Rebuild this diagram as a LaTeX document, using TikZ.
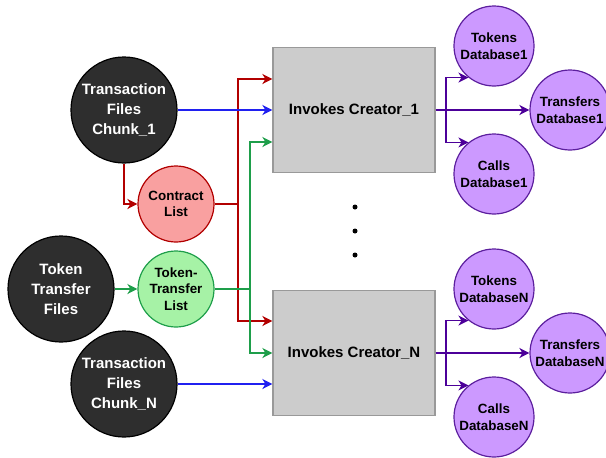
\documentclass[tikz,border=0pt]{standalone}
\usepackage{fontspec}
\setmainfont{Liberation Sans}
\usetikzlibrary{arrows.meta}

\definecolor{darkc}{HTML}{2E2E2E}
\definecolor{redl}{HTML}{B20000}
\definecolor{redf}{HTML}{F9A0A0}
\definecolor{greenl}{HTML}{1E9E4A}
\definecolor{greenf}{HTML}{A6F2A6}
\definecolor{bluel}{HTML}{2020F0}
\definecolor{purpl}{HTML}{4C0099}
\definecolor{dbfill}{HTML}{CC99FF}
\definecolor{dbline}{HTML}{5C1F9E}
\definecolor{boxfill}{HTML}{CCCCCC}
\definecolor{boxline}{HTML}{999999}

\begin{document}
\begin{tikzpicture}[x=1pt, y=-1pt,
    src/.style={circle, draw=black, fill=darkc, text=white, line width=1.2pt,
                minimum size=106pt, inner sep=0pt, align=center,
                font=\bfseries\fontsize{15}{20}\selectfont},
    lst/.style={circle, minimum size=76pt, inner sep=0pt, align=center,
                line width=1.2pt, font=\bfseries\fontsize{13.4}{16.5}\selectfont},
    db/.style={circle, draw=dbline, fill=dbfill, minimum size=80pt, inner sep=0pt,
               align=center, line width=1.2pt,
               font=\bfseries\fontsize{13.4}{17}\selectfont},
    box/.style={draw=boxline, fill=boxfill, line width=1.2pt, minimum width=162pt,
                minimum height=125pt, font=\bfseries\fontsize{15}{18}\selectfont},
    dot/.style={circle, fill=black, inner sep=0pt, minimum size=5pt},
    flow/.style={line width=1.8pt, -{Stealth[length=10pt, width=10pt, inset=3pt]}}]
  \useasboundingbox (0,0) rectangle (606,458);

  % inputs
  \node[src] (c1) at (124,110) {Transaction\\Files\\Chunk\_1};
  \node[src] (ttf) at (61,289) {Token\\Transfer\\Files};
  \node[src] (cN) at (124,384) {Transaction\\Files\\Chunk\_N};
  \node[lst, draw=redl, fill=redf] (cl) at (176,204) {Contract\\List};
  \node[lst, draw=greenl, fill=greenf] (tl) at (176,289) {Token-\\Transfer\\List};

  % creators
  \node[box] (inv1) at (354,110) {Invokes Creator\_1};
  \node[box] (invN) at (354,353) {Invokes Creator\_N};
  \foreach \y [count=\i] in {207,231,255}
    \node[dot] (d\i) at (355,\y) {};

  % databases
  \node[db] (tok1) at (494,46) {Tokens\\Database1};
  \node[db] (trf1) at (570,110) {Transfers\\Database1};
  \node[db] (cal1) at (494,174) {Calls\\Database1};
  \node[db] (tokN) at (494,289) {Tokens\\DatabaseN};
  \node[db] (trfN) at (570,353) {Transfers\\DatabaseN};
  \node[db] (calN) at (494,417) {Calls\\DatabaseN};

  % red
  \draw[flow, redl] (c1.south) |- (cl.west);
  \draw[flow, redl] (cl.east) -- ++(23,0) coordinate (rj) |- ([yshift=31pt]inv1.west);
  \draw[flow, redl] (rj) |- ([yshift=32pt]invN.west);

  % green
  \draw[flow, greenl] (ttf) -- (tl);
  \draw[flow, greenl] (tl.east) -- ++(35,0) coordinate (gj) |- ([yshift=-32pt]inv1.west);
  \draw[flow, greenl] (gj) |- (invN.west);

  % blue
  \draw[flow, bluel] (c1) -- (inv1);
  \draw[flow, bluel] (cN) -- ([yshift=-31pt]invN.west);

  % purple
  \draw[flow, purpl] (inv1.east) -- ++(10,0) coordinate (p1) |- (tok1.231);
  \draw[flow, purpl] (p1) |- (cal1.129);
  \draw[flow, purpl] (inv1) -- (trf1);
  \draw[flow, purpl] (invN.east) -- ++(10,0) coordinate (pN) |- (tokN.231);
  \draw[flow, purpl] (pN) |- (calN.129);
  \draw[flow, purpl] (invN) -- (trfN);
\end{tikzpicture}
\end{document}
